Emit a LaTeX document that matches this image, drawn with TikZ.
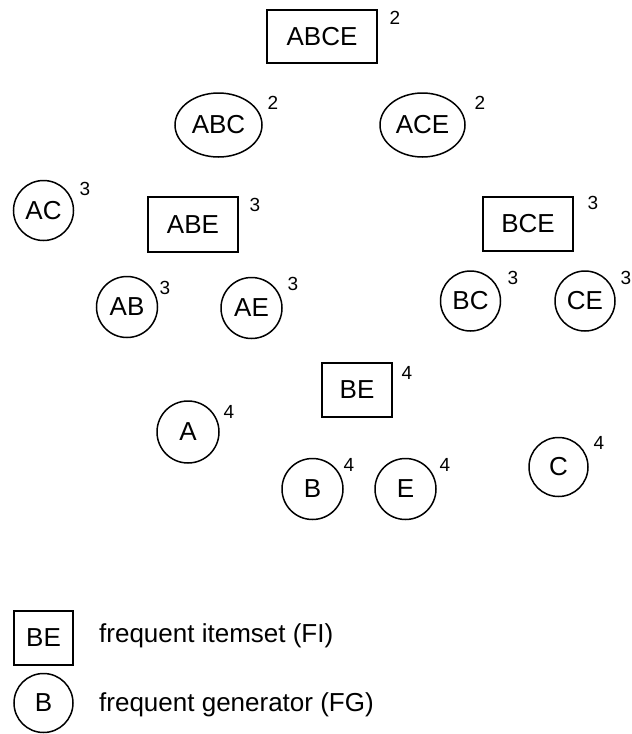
\documentclass[tikz,border=0pt]{standalone}
\usepackage{fontspec}
\setmainfont{Liberation Sans}
\usetikzlibrary{shapes.geometric}
\begin{document}
\begin{tikzpicture}[x=1pt,y=-1pt,
  every node/.style={font=\fontsize{26}{28}\selectfont, inner sep=0pt},
  fi/.style={draw, line width=1.5pt, rectangle, minimum height=54pt},
  fg/.style={draw, line width=1.5pt, circle, minimum size=61pt},
  fgo/.style={draw, line width=1.5pt, ellipse, minimum width=86pt, minimum height=64pt},
  sup/.style={font=\fontsize{19}{21}\selectfont},
  legend/.style={anchor=west, font=\fontsize{26}{28}\selectfont}]
\useasboundingbox (0,0) rectangle (632,734);

% itemset lattice
\node[fi, minimum width=110pt, minimum height=53pt] (abce) at (322,36.5) {ABCE};
\node[sup] (nabce) at (395,18) {2};

\node[fgo, minimum width=87pt] (abc) at (218.5,125) {ABC};
\node[sup] (nabc) at (273,103) {2};
\node[fgo, minimum width=85pt] (ace) at (422.5,125) {ACE};
\node[sup] (nace) at (480,103) {2};

\node[fg, minimum size=60pt] (ac) at (43.5,210.5) {AC};
\node[sup] (nac) at (85,189) {3};
\node[fi, minimum width=90pt, minimum height=55pt] (abe) at (193,224.5) {ABE};
\node[sup] (nabe) at (255,205) {3};
\node[fi, minimum width=90pt] (bce) at (528,224) {BCE};
\node[sup] (nbce) at (593,203) {3};

\node[fg] (ab) at (127,307) {AB};
\node[sup] (nab) at (165,288) {3};
\node[fg] (ae) at (251.5,308) {AE};
\node[sup] (nae) at (293,284) {3};
\node[fg, minimum size=60pt] (bc) at (470.5,301) {BC};
\node[sup] (nbc) at (513,278) {3};
\node[fg, minimum size=60pt] (ce) at (585,301) {CE};
\node[sup] (nce) at (626,278) {3};

\node[fi, minimum width=70pt] (be) at (357,390) {BE};
\node[sup] (nbe) at (407,373) {4};
\node[fg, minimum size=62pt] (a) at (188,432) {A};
\node[sup] (na) at (229,412) {4};
\node[fg] (b) at (312.5,489) {B};
\node[sup] (nb) at (349,465) {4};
\node[fg] (e) at (405.5,489) {E};
\node[sup] (ne) at (445,465) {4};
\node[fg, minimum size=59pt] (c) at (558.5,467) {C};
\node[sup] (nc) at (599,443) {4};

% legend
\node[fi, minimum width=59pt] (lfi) at (43.5,638) {BE};
\node[legend] (tfi) at (99,636) {frequent itemset (FI)};
\node[fg, minimum size=59pt] (lfg) at (43.5,703) {B};
\node[legend] (tfg) at (99,705) {frequent generator (FG)};
\end{tikzpicture}
\end{document}
